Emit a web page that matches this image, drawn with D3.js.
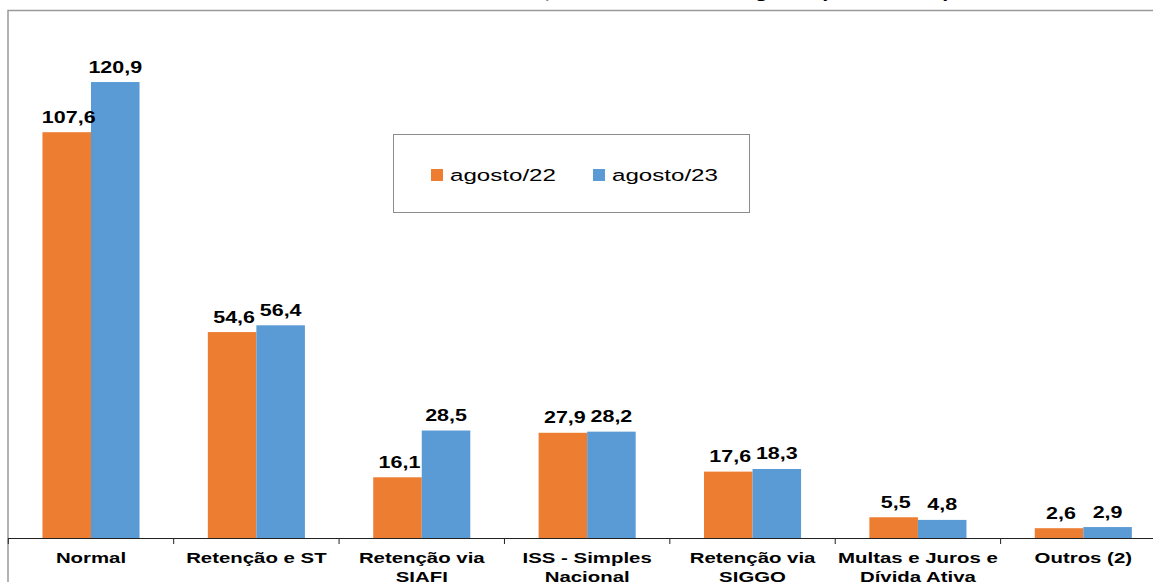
<!DOCTYPE html>
<html>
<head>
<meta charset="utf-8">
<script src="https://cdn.jsdelivr.net/npm/d3@7/dist/d3.min.js"></script>
<style>
  html, body { margin: 0; padding: 0; background: #fff; overflow: hidden; }
  svg { display: block; font-family: "Liberation Sans", Arial, sans-serif; }
</style>
</head>
<body>
<svg id="chart" width="1153" height="582"></svg>
<script>
// Receita de ISS por modalidade, agosto/22 x agosto/23 (R$ milhões)
const titleText = "Receita do ISS, Valores Totais de Agosto (R$ milhões)";
const categories = [
  ["Normal"],
  ["Retenção e ST"],
  ["Retenção via", "SIAFI"],
  ["ISS - Simples", "Nacional"],
  ["Retenção via", "SIGGO"],
  ["Multas e Juros e", "Dívida Ativa"],
  ["Outros (2)"]
];
const seriesNames = ["agosto/22", "agosto/23"];
const ago22 = [107.6, 54.6, 16.1, 27.9, 17.6, 5.5, 2.6];
const ago23 = [120.9, 56.4, 28.5, 28.2, 18.3, 4.8, 2.9];
const seriesColors = ["#ED7D31", "#5B9BD5"];

const svg = d3.select("#chart");
const stretch = 1.36;          // horizontal text stretch used throughout
const fmt = v => v.toFixed(1).replace(".", ",");

const plot = { left: 8.3, top: 10, bottom: 538, right: 1166 };

const catKeys = categories.map((c, i) => i);
const x0 = d3.scaleBand().domain(catKeys).range([plot.left, plot.right]).padding(0);
const groupFrac = 0.587;
const bw = x0.bandwidth();
const x1 = d3.scaleBand().domain([0, 1])
  .range([bw * (1 - groupFrac) / 2, bw * (1 + groupFrac) / 2]).padding(0);
const y = d3.scaleLinear().domain([0, 140]).range([plot.bottom, plot.top]);

// chart frame
svg.append("rect")
  .attr("x", 8).attr("y", 10.5)
  .attr("width", 1300).attr("height", 700)
  .attr("fill", "none").attr("stroke", "#9a9a9a").attr("stroke-width", 1.5);

// title (sits above the frame)
svg.append("text")
  .attr("transform", `translate(672,-1.8) scale(${stretch},1)`)
  .attr("text-anchor", "middle")
  .attr("font-weight", "bold").attr("font-size", 16)
  .attr("fill", "#000")
  .text(titleText);

// bars
const rows = catKeys.map(i => ({ i, vals: [ago22[i], ago23[i]] }));
const groups = svg.append("g").selectAll("g").data(rows).join("g")
  .attr("transform", d => `translate(${x0(d.i)},0)`);

groups.selectAll("rect").data(d => d.vals.map((v, s) => ({ v, s }))).join("rect")
  .attr("x", d => x1(d.s))
  .attr("y", d => y(d.v))
  .attr("width", x1.bandwidth())
  .attr("height", d => y(0) - y(d.v))
  .attr("fill", d => seriesColors[d.s]);

// value labels
groups.selectAll("text.val").data(d => d.vals.map((v, s) => ({ v, s }))).join("text")
  .attr("class", "val")
  .attr("transform", d => `translate(${x1(d.s) + x1.bandwidth() / 2 + (d.s === 0 ? 2 : 0)},${y(d.v) - 9.5}) scale(${stretch},1)`)
  .attr("text-anchor", "middle")
  .attr("font-weight", "bold").attr("font-size", 15.8)
  .attr("fill", "#000")
  .text(d => fmt(d.v));

// x axis
const axis = d3.axisBottom(x0).tickSize(0).tickFormat("");
const gx = svg.append("g").attr("transform", `translate(0,${plot.bottom})`).call(axis);
gx.select(".domain").remove();
gx.selectAll(".tick").remove();
gx.append("line")
  .attr("x1", 8).attr("x2", 1153).attr("y1", 0.5).attr("y2", 0.5)
  .attr("stroke", "#222").attr("stroke-width", 1.2);
const boundaries = catKeys.map(i => x0(i)).concat([x0(catKeys.length - 1) + bw]);
gx.selectAll("line.tk").data(boundaries).join("line")
  .attr("class", "tk")
  .attr("x1", d => d).attr("x2", d => d)
  .attr("y1", 0.5).attr("y2", 6)
  .attr("stroke", "#222");

// category labels
const catLabels = gx.selectAll("text.cat").data(rows).join("text")
  .attr("class", "cat")
  .attr("transform", d => `translate(${x0(d.i) + bw / 2},25) scale(${stretch},1)`)
  .attr("text-anchor", "middle")
  .attr("font-weight", "bold").attr("font-size", 15)
  .attr("fill", "#000");
catLabels.selectAll("tspan").data(d => categories[d.i]).join("tspan")
  .attr("x", 0)
  .attr("dy", (d, k) => k === 0 ? 0 : 19)
  .text(d => d);

// legend
const lg = svg.append("g");
lg.append("rect")
  .attr("x", 393.5).attr("y", 134.5).attr("width", 356).attr("height", 78)
  .attr("fill", "#fff").attr("stroke", "#8c8c8c").attr("stroke-width", 1);
const legendX = [431, 593];
seriesNames.forEach((name, s) => {
  lg.append("rect")
    .attr("x", legendX[s]).attr("y", 169)
    .attr("width", 12).attr("height", 12)
    .attr("fill", seriesColors[s]);
  lg.append("text")
    .attr("transform", `translate(${legendX[s] + 19},181) scale(1.42,1)`)
    .attr("font-size", 17)
    .attr("fill", "#000")
    .text(name);
});
</script>
</body>
</html>
